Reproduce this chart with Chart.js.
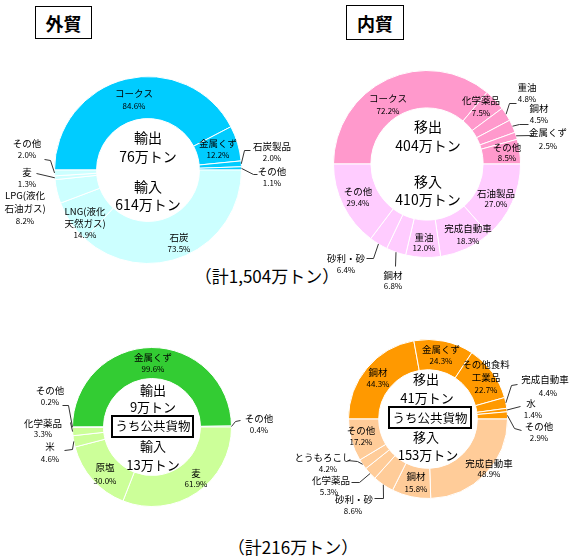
<!DOCTYPE html>
<html>
<head>
<meta charset="utf-8">
<script src="https://cdn.jsdelivr.net/npm/chart.js@4/dist/chart.umd.min.js"></script>
<style>
  body { margin: 0; background: #fff; }
  #page { position: relative; width: 576px; height: 557px; overflow: hidden; font-family: "Noto Sans CJK JP", sans-serif; }
  canvas { position: absolute; left: 0; top: 0; }
  .title { position: absolute; border: 1.5px solid #000; box-sizing: border-box; font-weight: bold; font-size: 18px;
           display: flex; align-items: center; justify-content: center; }
  .total { position: absolute; font-size: 17px; white-space: nowrap; transform: translate(-50%, -50%); }
</style>
</head>
<body>
<div id="page">
  <div class="title" style="left:35px;top:6px;width:57px;height:33px;">外貿</div>
  <div class="title" style="left:346px;top:5px;width:58px;height:35px;">内貿</div>
  <div class="total" id="total1" style="left:267px;top:275px;"></div>
  <div class="total" id="total2" style="left:293px;top:546px;"></div>
  <canvas id="c1" width="576" height="557"></canvas>
  <canvas id="c2" width="576" height="557"></canvas>
  <canvas id="c3" width="576" height="557"></canvas>
  <canvas id="c4" width="576" height="557"></canvas>
</div>
<script>
// 外貿
const gaiExpNames = ['コークス', '金属くず', '石炭製品', 'その他'];
const gaiExpPct = [84.6, 12.2, 2.0, 1.1];
const gaiImpNames = ['石炭', 'LNG(液化\n天然ガス)', 'LPG(液化\n石油ガス)', '麦', 'その他'];
const gaiImpPct = [73.5, 14.9, 8.2, 1.3, 2.0];
const gaiTons = [76, 614];

// 内貿
const naiExpNames = ['コークス', '化学薬品', '重油', '鋼材', '金属くず', 'その他'];
const naiExpPct = [72.2, 7.5, 4.8, 4.5, 2.5, 8.5];
const naiImpNames = ['石油製品', '完成自動車', '重油', '鋼材', '砂利・砂', 'その他'];
const naiImpPct = [27.0, 18.3, 12.0, 6.8, 6.4, 29.4];
const naiTons = [404, 410];

// 外貿 うち公共貨物
const pubGaiExpNames = ['金属くず', 'その他'];
const pubGaiExpPct = [99.6, 0.4];
const pubGaiImpNames = ['麦', '原塩', '米', '化学薬品', 'その他'];
const pubGaiImpPct = [61.9, 30.0, 4.6, 3.3, 0.2];
const pubGaiTons = [9, 13];

// 内貿 うち公共貨物
const pubNaiExpNames = ['鋼材', '金属くず', 'その他食料\n工業品', '完成自動車', '水', 'その他'];
const pubNaiExpPct = [44.3, 24.3, 22.7, 4.4, 1.4, 2.9];
const pubNaiImpNames = ['完成自動車', '鋼材', '砂利・砂', '化学薬品', 'とうもろこし', 'その他'];
const pubNaiImpPct = [48.9, 15.8, 8.6, 5.3, 4.2, 17.2];
const pubNaiTons = [41, 153];

const totals = ['1,504', '216'];

document.getElementById('total1').textContent = '（計' + totals[0] + '万トン）';
document.getElementById('total2').textContent = '（計' + totals[1] + '万トン）';

const FONT = '"Noto Sans CJK JP", sans-serif';

const labelPlugin = {
  id: 'sliceLabels',
  afterDatasetsDraw(chart, args, opts) {
    const ctx = chart.ctx;
    const meta = chart.getDatasetMeta(0);
    ctx.save();
    ctx.textAlign = 'center';
    ctx.textBaseline = 'middle';
    ctx.fillStyle = '#000';
    ctx.strokeStyle = '#333';
    ctx.lineWidth = 1;
    meta.data.forEach((arc, i) => {
      const p = opts.places[i];
      if (!p) return;
      if (p.lead) {
        const a = arc.getProps(['x', 'y', 'startAngle', 'endAngle', 'outerRadius'], true);
        const mid = (a.startAngle + a.endAngle) / 2;
        ctx.beginPath();
        ctx.moveTo(a.x + Math.cos(mid) * a.outerRadius, a.y + Math.sin(mid) * a.outerRadius);
        p.lead.forEach(q => ctx.lineTo(q[0] + 0.5, q[1] + 0.5));
        ctx.stroke();
      }
      const names = chart.data.labels[i].split('\n');
      const gap = p.gap || 12;
      ctx.font = '9.5px ' + FONT;
      names.forEach((n, k) => ctx.fillText(n, p.x, p.y + k * gap));
      ctx.font = '8px ' + FONT;
      ctx.fillText(opts.pcts[i].toFixed(1) + '%', p.px || p.x, p.y + names.length * gap);
    });
    // center texts
    (opts.center || []).forEach(c => {
      ctx.font = (c.size || 14) + 'px ' + FONT;
      ctx.fillText(c.text, c.x, c.y);
      if (c.box) {
        ctx.lineWidth = 2;
        ctx.strokeStyle = '#000';
        ctx.strokeRect(c.box[0], c.box[1], c.box[2], c.box[3]);
      }
    });
    ctx.restore();
  }
};

function halves(expPct, impPct) {
  const se = expPct.reduce((s, v) => s + v, 0);
  const si = impPct.reduce((s, v) => s + v, 0);
  return expPct.map(v => v / se * 50).concat(impPct.map(v => v / si * 50));
}

function makeDonut(id, geo, expNames, expPct, impNames, impPct, colors, places, center) {
  const labels = expNames.concat(impNames);
  const bg = expNames.map(() => colors[0]).concat(impNames.map(() => colors[1]));
  new Chart(document.getElementById(id), {
    type: 'doughnut',
    data: {
      labels: labels,
      datasets: [{
        data: halves(expPct, impPct),
        backgroundColor: bg,
        borderColor: '#ffffff',
        borderWidth: 1
      }]
    },
    options: {
      responsive: false,
      animation: false,
      rotation: -90,
      cutout: geo.cut,
      layout: {
        padding: {
          left: geo.cx - geo.r,
          top: geo.cy - geo.r,
          right: 576 - (geo.cx + geo.r),
          bottom: 557 - (geo.cy + geo.r)
        }
      },
      events: [],
      plugins: {
        legend: { display: false },
        tooltip: { enabled: false },
        sliceLabels: { places: places, pcts: expPct.concat(impPct), center: center }
      }
    },
    plugins: [labelPlugin]
  });
}

makeDonut('c1', { cx: 148, cy: 170, r: 94, cut: '55%' },
  gaiExpNames, gaiExpPct, gaiImpNames, gaiImpPct, ['#00ccff', '#ccffff'],
  [
    { x: 134, y: 93, gap: 13 },
    { x: 218, y: 143 },
    { x: 272, y: 146, px: 272, lead: [[244, 150], [250, 150]] },
    { x: 272, y: 171, lead: [[253, 174], [257, 174]] },
    { x: 179, y: 237 },
    { x: 85, y: 211 },
    { x: 25, y: 195, gap: 13 },
    { x: 27, y: 172, lead: [[36, 173]] },
    { x: 27, y: 143, lead: [[50, 160], [44, 159]] }
  ],
  [
    { text: '輸出', x: 148, y: 138 },
    { text: gaiTons[0] + '万トン', x: 148, y: 157 },
    { text: '輸入', x: 148, y: 187 },
    { text: gaiTons[1] + '万トン', x: 148, y: 205 }
  ]);

makeDonut('c2', { cx: 427, cy: 164, r: 94, cut: '60%' },
  naiExpNames, naiExpPct, naiImpNames, naiImpPct, ['#ff99cc', '#ffccff'],
  [
    { x: 388, y: 98, gap: 13 },
    { x: 481, y: 100, gap: 13 },
    { x: 527, y: 87, lead: [[509, 103], [516, 103]] },
    { x: 539, y: 108, lead: [[519, 124], [528, 124]] },
    { x: 548, y: 132, gap: 14, lead: [[533, 135]] },
    { x: 507, y: 147, gap: 11 },
    { x: 496, y: 193, gap: 11 },
    { x: 468, y: 228, gap: 13 },
    { x: 424, y: 237, gap: 11 },
    { x: 393, y: 275, gap: 11, lead: [[395, 266]] },
    { x: 346, y: 258, gap: 12, lead: [[373, 258], [366, 258]] },
    { x: 358, y: 191, gap: 12 }
  ],
  [
    { text: '移出', x: 428, y: 127 },
    { text: naiTons[0] + '万トン', x: 428, y: 146 },
    { text: '移入', x: 428, y: 182 },
    { text: naiTons[1] + '万トン', x: 428, y: 200 }
  ]);

makeDonut('c3', { cx: 152, cy: 427, r: 80, cut: '61%' },
  pubGaiExpNames, pubGaiExpPct, pubGaiImpNames, pubGaiImpPct, ['#33cc33', '#ccff99'],
  [
    { x: 153, y: 357 },
    { x: 259, y: 418, lead: [[235, 421], [240, 420]] },
    { x: 196, y: 473, gap: 11 },
    { x: 105, y: 467, gap: 14 },
    { x: 50, y: 446, gap: 13, lead: [[72, 449], [64, 450]] },
    { x: 43, y: 423, gap: 11, lead: [[70, 422]] },
    { x: 50, y: 390, lead: [[68, 405], [62, 405]] }
  ],
  [
    { text: '輸出', x: 153, y: 390, size: 13 },
    { text: pubGaiTons[0] + '万トン', x: 153, y: 407, size: 13 },
    { text: 'うち公共貨物', x: 153, y: 426, size: 12.5, box: [112, 416, 81, 21] },
    { text: '輸入', x: 153, y: 446, size: 13 },
    { text: pubGaiTons[1] + '万トン', x: 153, y: 465, size: 13 }
  ]);

makeDonut('c4', { cx: 428, cy: 419, r: 80, cut: '62%' },
  pubNaiExpNames, pubNaiExpPct, pubNaiImpNames, pubNaiImpPct, ['#ff9900', '#ffcc99'],
  [
    { x: 378, y: 372 },
    { x: 441, y: 349 },
    { x: 486, y: 364, gap: 13 },
    { x: 545, y: 379, px: 548, gap: 14, lead: [[511, 385], [517, 384]] },
    { x: 531, y: 403, px: 533, lead: [[520, 406]] },
    { x: 539, y: 426, lead: [[514, 428], [521, 430]] },
    { x: 489, y: 463, gap: 11 },
    { x: 416, y: 476, gap: 13 },
    { x: 354, y: 499, px: 353, lead: [[383, 498], [374, 498]] },
    { x: 331, y: 480, px: 329, lead: [[359, 482], [351, 482]] },
    { x: 323, y: 457, px: 328, lead: [[357, 461], [347, 460]] },
    { x: 361, y: 430 }
  ],
  [
    { text: '移出', x: 426, y: 379, size: 13 },
    { text: pubNaiTons[0] + '万トン', x: 427, y: 398, size: 13 },
    { text: 'うち公共貨物', x: 430, y: 418, size: 12.5, box: [389, 407, 82, 21] },
    { text: '移入', x: 426, y: 437, size: 13 },
    { text: pubNaiTons[1] + '万トン', x: 428, y: 455, size: 13 }
  ]);
</script>
</body>
</html>
